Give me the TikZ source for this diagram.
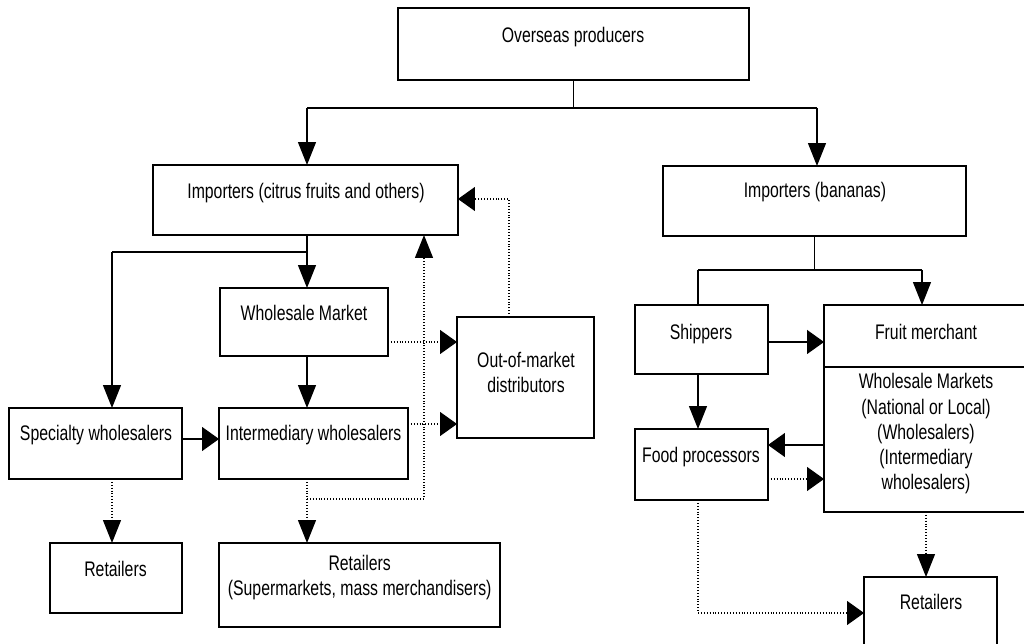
\documentclass[tikz,border=0pt]{standalone}
\usepackage{fontspec}
\setmainfont{Liberation Sans}[FakeStretch=0.75]
\usetikzlibrary{arrows.meta,calc}
\begin{document}
\begin{tikzpicture}[x=0.02cm, y=-0.02cm,
  box/.style={draw, line width=0.95pt, inner sep=0pt, outer sep=0pt},
  txt/.style={anchor=base, align=center, inner sep=0pt,
    font=\fontsize{12pt}{14.4pt}\selectfont},
  conn/.style={line width=0.75pt},
  dot/.style={line width=0.75pt, dash pattern=on 0.55pt off 1.1pt},
  arrV/.style={-{Triangle[length=0.46cm, width=0.36cm]}},
  arrH/.style={-{Triangle[length=0.34cm, width=0.48cm]}}]
\useasboundingbox (0,0) rectangle (1024,644);
\clip (0,0) rectangle (1024,644);
\fill[white] (0,0) rectangle (1024,644);

% boxes
\node[box, minimum width=7.02cm, minimum height=1.44cm] (over) at (573.5,44) {};
\node[box, minimum width=6.10cm, minimum height=1.40cm] (impL) at (305.5,200) {};
\node[box, minimum width=6.06cm, minimum height=1.40cm] (impB) at (814.5,201) {};
\node[box, minimum width=3.36cm, minimum height=1.36cm] (whm) at (304,322) {};
\node[box, minimum width=3.46cm, minimum height=1.42cm] (spec) at (95.5,443.5) {};
\node[box, minimum width=3.78cm, minimum height=1.42cm] (inter) at (313.5,443.5) {};
\node[box, minimum width=2.74cm, minimum height=2.42cm] (oom) at (525.5,377.5) {};
\node[box, minimum width=2.64cm, minimum height=1.40cm] (retL) at (116,578) {};
\node[box, minimum width=5.62cm, minimum height=1.68cm] (retS) at (359.5,585) {};
\node[box, minimum width=2.66cm, minimum height=1.38cm] (ship) at (701.5,339.5) {};
\node[box, minimum width=4.32cm, minimum height=4.14cm] (fmw) at (932,408.5) {};
\node[box, minimum width=2.66cm, minimum height=1.42cm] (food) at (701.5,464.5) {};
\node[box, minimum width=2.66cm, minimum height=2.06cm] (retR) at (930.5,628.5) {};
\coordinate (d1) at (824,367);
\draw[line width=0.95pt] (fmw.west |- d1) -- (fmw.east |- d1);

% texts (anchored at the baseline of the last line)
\node[txt] (t-over) at (573,43) {Overseas producers};
\node[txt] (t-impL) at (306,199) {Importers (citrus fruits and others)};
\node[txt] (t-impB) at (815,198) {Importers (bananas)};
\node[txt] (t-whm) at (304,321) {Wholesale Market};
\node[txt] (t-spec) at (96,441) {Specialty wholesalers};
\node[txt] (t-inter) at (313.5,441) {Intermediary wholesalers};
\node[txt] (t-oom) at (526,393) {Out-of-market\\distributors};
\node[txt] (t-retL) at (115.5,577) {Retailers};
\node[txt] (t-retS) at (359.7,596) {Retailers\\(Supermarkets, mass merchandisers)};
\node[txt] (t-ship) at (701,340) {Shippers};
\node[txt] (t-fruit) at (926,340) {Fruit merchant};
\node[txt] (t-wm) at (926,490) {Wholesale Markets\\(National or Local)\\(Wholesalers)\\(Intermediary\\wholesalers)};
\node[txt] (t-food) at (701,463) {Food processors};
\node[txt] (t-retR) at (931,609) {Retailers};

% helper coordinates
\coordinate (s1) at (573.5,108);
\coordinate (a1) at (307,108);
\coordinate (a2) at (817,108);
\coordinate (s2) at (307,252);
\coordinate (c1) at (112,252);
\coordinate (c2) at (424,499);
\coordinate (c3) at (509,199);
\coordinate (r1) at (0,342);
\coordinate (r2) at (0,424);
\coordinate (r0) at (0,439);
\coordinate (c4) at (698,270);
\coordinate (c5) at (922,270);
\coordinate (r3) at (0,445);
\coordinate (r4) at (0,479);
\coordinate (c6) at (926,0);
\coordinate (c7) at (698,613);

% left tree
\draw[conn] (over.south) -- (s1);
\draw[conn] (a1) -- (a2);
\draw[conn, arrV] (a1) -- (a1 |- impL.north);
\draw[conn, arrV] (a2) -- (a2 |- impB.north);
\draw[conn] (s2 |- impL.south) -- (s2) -- (c1);
\draw[conn, arrV] (c1) -- (c1 |- spec.north);
\draw[conn, arrV] (s2) -- (s2 |- whm.north);
\draw[conn, arrV] (s2 |- whm.south) -- (s2 |- inter.north);
\draw[conn, arrH] (spec.east |- r0) -- (inter.west |- r0);
\draw[dot, arrV] (c1 |- spec.south) -- (c1 |- retL.north);
\draw[dot, arrV] (s2 |- inter.south) -- (s2 |- retS.north);
\draw[dot, arrV] (s2 |- c2) -- (c2) -- (c2 |- impL.south);
\draw[dot, arrH] (whm.east |- r1) -- (oom.west |- r1);
\draw[dot, arrH] (inter.east |- r2) -- (oom.west |- r2);
\draw[dot, arrH] (c3 |- oom.north) -- (c3) -- (c3 -| impL.east);

% right tree
\draw[conn] (c4 -| impB.south) -- (impB.south);
\draw[conn] (c4) -- (c5);
\draw[conn] (c4) -- (c4 |- ship.north);
\draw[conn, arrV] (c5) -- (c5 |- fmw.north);
\draw[conn, arrH] (ship.east |- r1) -- (fmw.west |- r1);
\draw[conn, arrV] (c4 |- ship.south) -- (c4 |- food.north);
\draw[conn, arrH] (fmw.west |- r3) -- (food.east |- r3);
\draw[dot, arrH] (food.east |- r4) -- (fmw.west |- r4);
\draw[dot, arrV] (c6 |- fmw.south) -- (c6 |- retR.north);
\draw[dot, arrH] (c4 |- food.south) -- (c7) -- (c7 -| retR.west);
\end{tikzpicture}
\end{document}
